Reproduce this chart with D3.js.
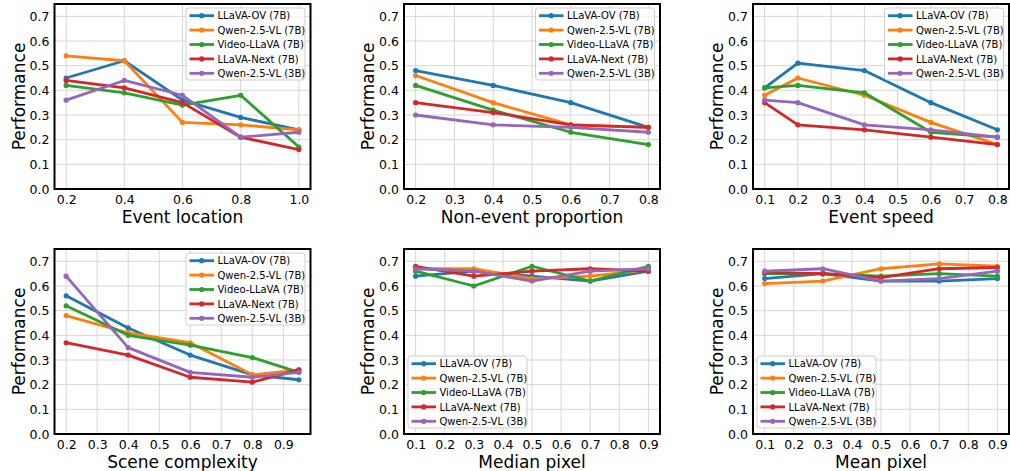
<!DOCTYPE html>
<html>
<head>
<meta charset="utf-8">
<script src="https://cdn.jsdelivr.net/npm/d3@7"></script>
<style>
  html, body { margin: 0; padding: 0; background: #fff; }
  svg { display: block; font-family: "DejaVu Sans", sans-serif; }
</style>
</head>
<body>
<div id="chart"></div>
<script>
// Models (legend order) and matplotlib default colours
const models = ['LLaVA-OV (7B)', 'Qwen-2.5-VL (7B)', 'Video-LLaVA (7B)', 'LLaVA-Next (7B)', 'Qwen-2.5-VL (3B)'];
const colors = ['#1f77b4', '#ff7f0e', '#2ca02c', '#d62728', '#9467bd'];

// x values of each panel
const eventLocationX = [0.2, 0.4, 0.6, 0.8, 1.0];
const nonEventX = [0.2, 0.4, 0.6, 0.8];
const eventSpeedX = [0.1, 0.2, 0.4, 0.6, 0.8];
const sceneX = [0.2, 0.4, 0.6, 0.8, 0.95];
const medianPixelX = [0.1, 0.3, 0.5, 0.7, 0.9];
const meanPixelX = [0.1, 0.3, 0.5, 0.7, 0.9];

// performance, one row per model (same order as `models`)
const eventLocationPerf = [
  [0.45, 0.52, 0.36, 0.29, 0.24],
  [0.54, 0.52, 0.27, 0.26, 0.24],
  [0.42, 0.39, 0.34, 0.38, 0.17],
  [0.44, 0.41, 0.35, 0.21, 0.16],
  [0.36, 0.44, 0.38, 0.21, 0.23]
];
const nonEventPerf = [
  [0.48, 0.42, 0.35, 0.25],
  [0.46, 0.35, 0.26, 0.25],
  [0.42, 0.32, 0.23, 0.18],
  [0.35, 0.31, 0.26, 0.25],
  [0.30, 0.26, 0.25, 0.23]
];
const eventSpeedPerf = [
  [0.41, 0.51, 0.48, 0.35, 0.24],
  [0.38, 0.45, 0.38, 0.27, 0.18],
  [0.41, 0.42, 0.39, 0.23, 0.21],
  [0.35, 0.26, 0.24, 0.21, 0.18],
  [0.36, 0.35, 0.26, 0.24, 0.21]
];
const scenePerf = [
  [0.56, 0.43, 0.32, 0.24, 0.22],
  [0.48, 0.41, 0.37, 0.24, 0.26],
  [0.52, 0.40, 0.36, 0.31, 0.25],
  [0.37, 0.32, 0.23, 0.21, 0.26],
  [0.64, 0.35, 0.25, 0.23, 0.25]
];
const medianPixelPerf = [
  [0.64, 0.66, 0.64, 0.62, 0.66],
  [0.67, 0.67, 0.63, 0.64, 0.665],
  [0.66, 0.60, 0.68, 0.62, 0.68],
  [0.68, 0.64, 0.66, 0.67, 0.66],
  [0.67, 0.66, 0.62, 0.66, 0.67]
];
const meanPixelPerf = [
  [0.63, 0.65, 0.62, 0.62, 0.63],
  [0.61, 0.62, 0.67, 0.69, 0.68],
  [0.65, 0.65, 0.64, 0.65, 0.64],
  [0.655, 0.65, 0.634, 0.67, 0.675],
  [0.66, 0.67, 0.62, 0.63, 0.66]
];

// tick labels
const yTicks = [0.0, 0.1, 0.2, 0.3, 0.4, 0.5, 0.6, 0.7];
const eventLocationTicks = [0.2, 0.4, 0.6, 0.8, 1.0];
const nonEventTicks = [0.2, 0.3, 0.4, 0.5, 0.6, 0.7, 0.8];
const eventSpeedTicks = [0.1, 0.2, 0.3, 0.4, 0.5, 0.6, 0.7, 0.8];
const sceneTicks = [0.2, 0.3, 0.4, 0.5, 0.6, 0.7, 0.8, 0.9];
const pixelTicks = [0.1, 0.2, 0.3, 0.4, 0.5, 0.6, 0.7, 0.8, 0.9];

const panels = [
  { label: 'Event location', x: eventLocationX, y: eventLocationPerf, ticks: eventLocationTicks, legend: 'upper' },
  { label: 'Non-event proportion', x: nonEventX, y: nonEventPerf, ticks: nonEventTicks, legend: 'upper' },
  { label: 'Event speed', x: eventSpeedX, y: eventSpeedPerf, ticks: eventSpeedTicks, legend: 'upper' },
  { label: 'Scene complexity', x: sceneX, y: scenePerf, ticks: sceneTicks, legend: 'upper' },
  { label: 'Median pixel', x: medianPixelX, y: medianPixelPerf, ticks: pixelTicks, legend: 'lower' },
  { label: 'Mean pixel', x: meanPixelX, y: meanPixelPerf, ticks: pixelTicks, legend: 'lower' }
];

const W = 1010, H = 471;
const colLeft = [54.5, 404, 753];
const rowTop = [4, 249];
const pw = 256, ph = 185;

const svg = d3.select('#chart').append('svg')
  .attr('width', W)
  .attr('height', H);

panels.forEach((p, i) => {
  const left = colLeft[i % 3];
  const top = rowTop[Math.floor(i / 3)];
  const g = svg.append('g').attr('transform', `translate(${left},${top})`);

  // matplotlib style 5% margin on x
  const [x0, x1] = d3.extent(p.x);
  const pad = (x1 - x0) * 0.05;
  const x = d3.scaleLinear().domain([x0 - pad, x1 + pad]).range([0, pw]);
  const y = d3.scaleLinear().domain([0, 0.75]).range([ph, 0]);

  // grid
  g.selectAll('.vgrid')
    .data(p.ticks)
    .enter()
    .append('line')
    .attr('x1', (d) => x(d))
    .attr('x2', (d) => x(d))
    .attr('y1', 0)
    .attr('y2', ph)
    .attr('stroke', '#d6d6d6')
    .attr('stroke-width', 1);

  g.selectAll('.hgrid')
    .data(yTicks)
    .enter()
    .append('line')
    .attr('x1', 0)
    .attr('x2', pw)
    .attr('y1', (d) => y(d))
    .attr('y2', (d) => y(d))
    .attr('stroke', '#d6d6d6')
    .attr('stroke-width', 1);

  // axes (labels only, no tick marks)
  const xAxis = g.append('g')
    .attr('transform', `translate(0,${ph})`)
    .call(d3.axisBottom(x).tickValues(p.ticks).tickFormat(d3.format('.1f')).tickSize(0).tickPadding(6));
  const yAxis = g.append('g')
    .call(d3.axisLeft(y).tickValues(yTicks).tickFormat(d3.format('.1f')).tickSize(0).tickPadding(5));
  [xAxis, yAxis].forEach((a) => {
    a.select('.domain').remove();
    a.selectAll('text')
      .style('font-family', '"DejaVu Sans", sans-serif')
      .style('font-size', '12.5px')
      .style('fill', '#000');
  });

  // lines
  const line = d3.line()
    .x((d) => x(d[0]))
    .y((d) => y(d[1]));

  p.y.forEach((vals, k) => {
    const pts = p.x.map((xv, j) => [xv, vals[j]]);
    g.append('path')
      .datum(pts)
      .attr('fill', 'none')
      .attr('stroke', colors[k])
      .attr('stroke-width', 2.8)
      .attr('stroke-linejoin', 'round')
      .attr('d', line);
    g.selectAll(null)
      .data(pts)
      .enter()
      .append('circle')
      .attr('cx', (d) => x(d[0]))
      .attr('cy', (d) => y(d[1]))
      .attr('r', 2.6)
      .attr('fill', colors[k]);
  });

  // frame
  g.append('rect')
    .attr('width', pw)
    .attr('height', ph)
    .attr('fill', 'none')
    .attr('stroke', '#000')
    .attr('stroke-width', 2);

  // axis labels
  g.append('text')
    .attr('x', pw / 2)
    .attr('y', ph + 34)
    .attr('text-anchor', 'middle')
    .style('font-size', '17px')
    .text(p.label);

  g.append('text')
    .attr('transform', 'rotate(-90)')
    .attr('x', -ph / 2)
    .attr('y', -30)
    .attr('text-anchor', 'middle')
    .style('font-size', '17px')
    .text('Performance');

  // legend
  const lw = 119, lh = 72;
  const lx = p.legend === 'upper' ? pw - lw - 5.5 : 4;
  const ly = p.legend === 'upper' ? 4 : ph - lh - 6;
  const leg = g.append('g').attr('transform', `translate(${lx},${ly})`);
  leg.append('rect')
    .attr('width', lw)
    .attr('height', lh)
    .attr('rx', 3)
    .attr('fill', 'rgba(255,255,255,0.8)')
    .attr('stroke', '#cfcfcf')
    .attr('stroke-width', 1);
  models.forEach((m, k) => {
    const yy = 7.7 + k * 14.4;
    leg.append('line')
      .attr('x1', 3.5)
      .attr('x2', 28)
      .attr('y1', yy)
      .attr('y2', yy)
      .attr('stroke', colors[k])
      .attr('stroke-width', 2.8);
    leg.append('circle')
      .attr('cx', 15.7)
      .attr('cy', yy)
      .attr('r', 2.6)
      .attr('fill', colors[k]);
    leg.append('text')
      .attr('x', 31.5)
      .attr('y', yy + 3.6)
      .style('font-size', '10px')
      .text(m);
  });
});
</script>
</body>
</html>
